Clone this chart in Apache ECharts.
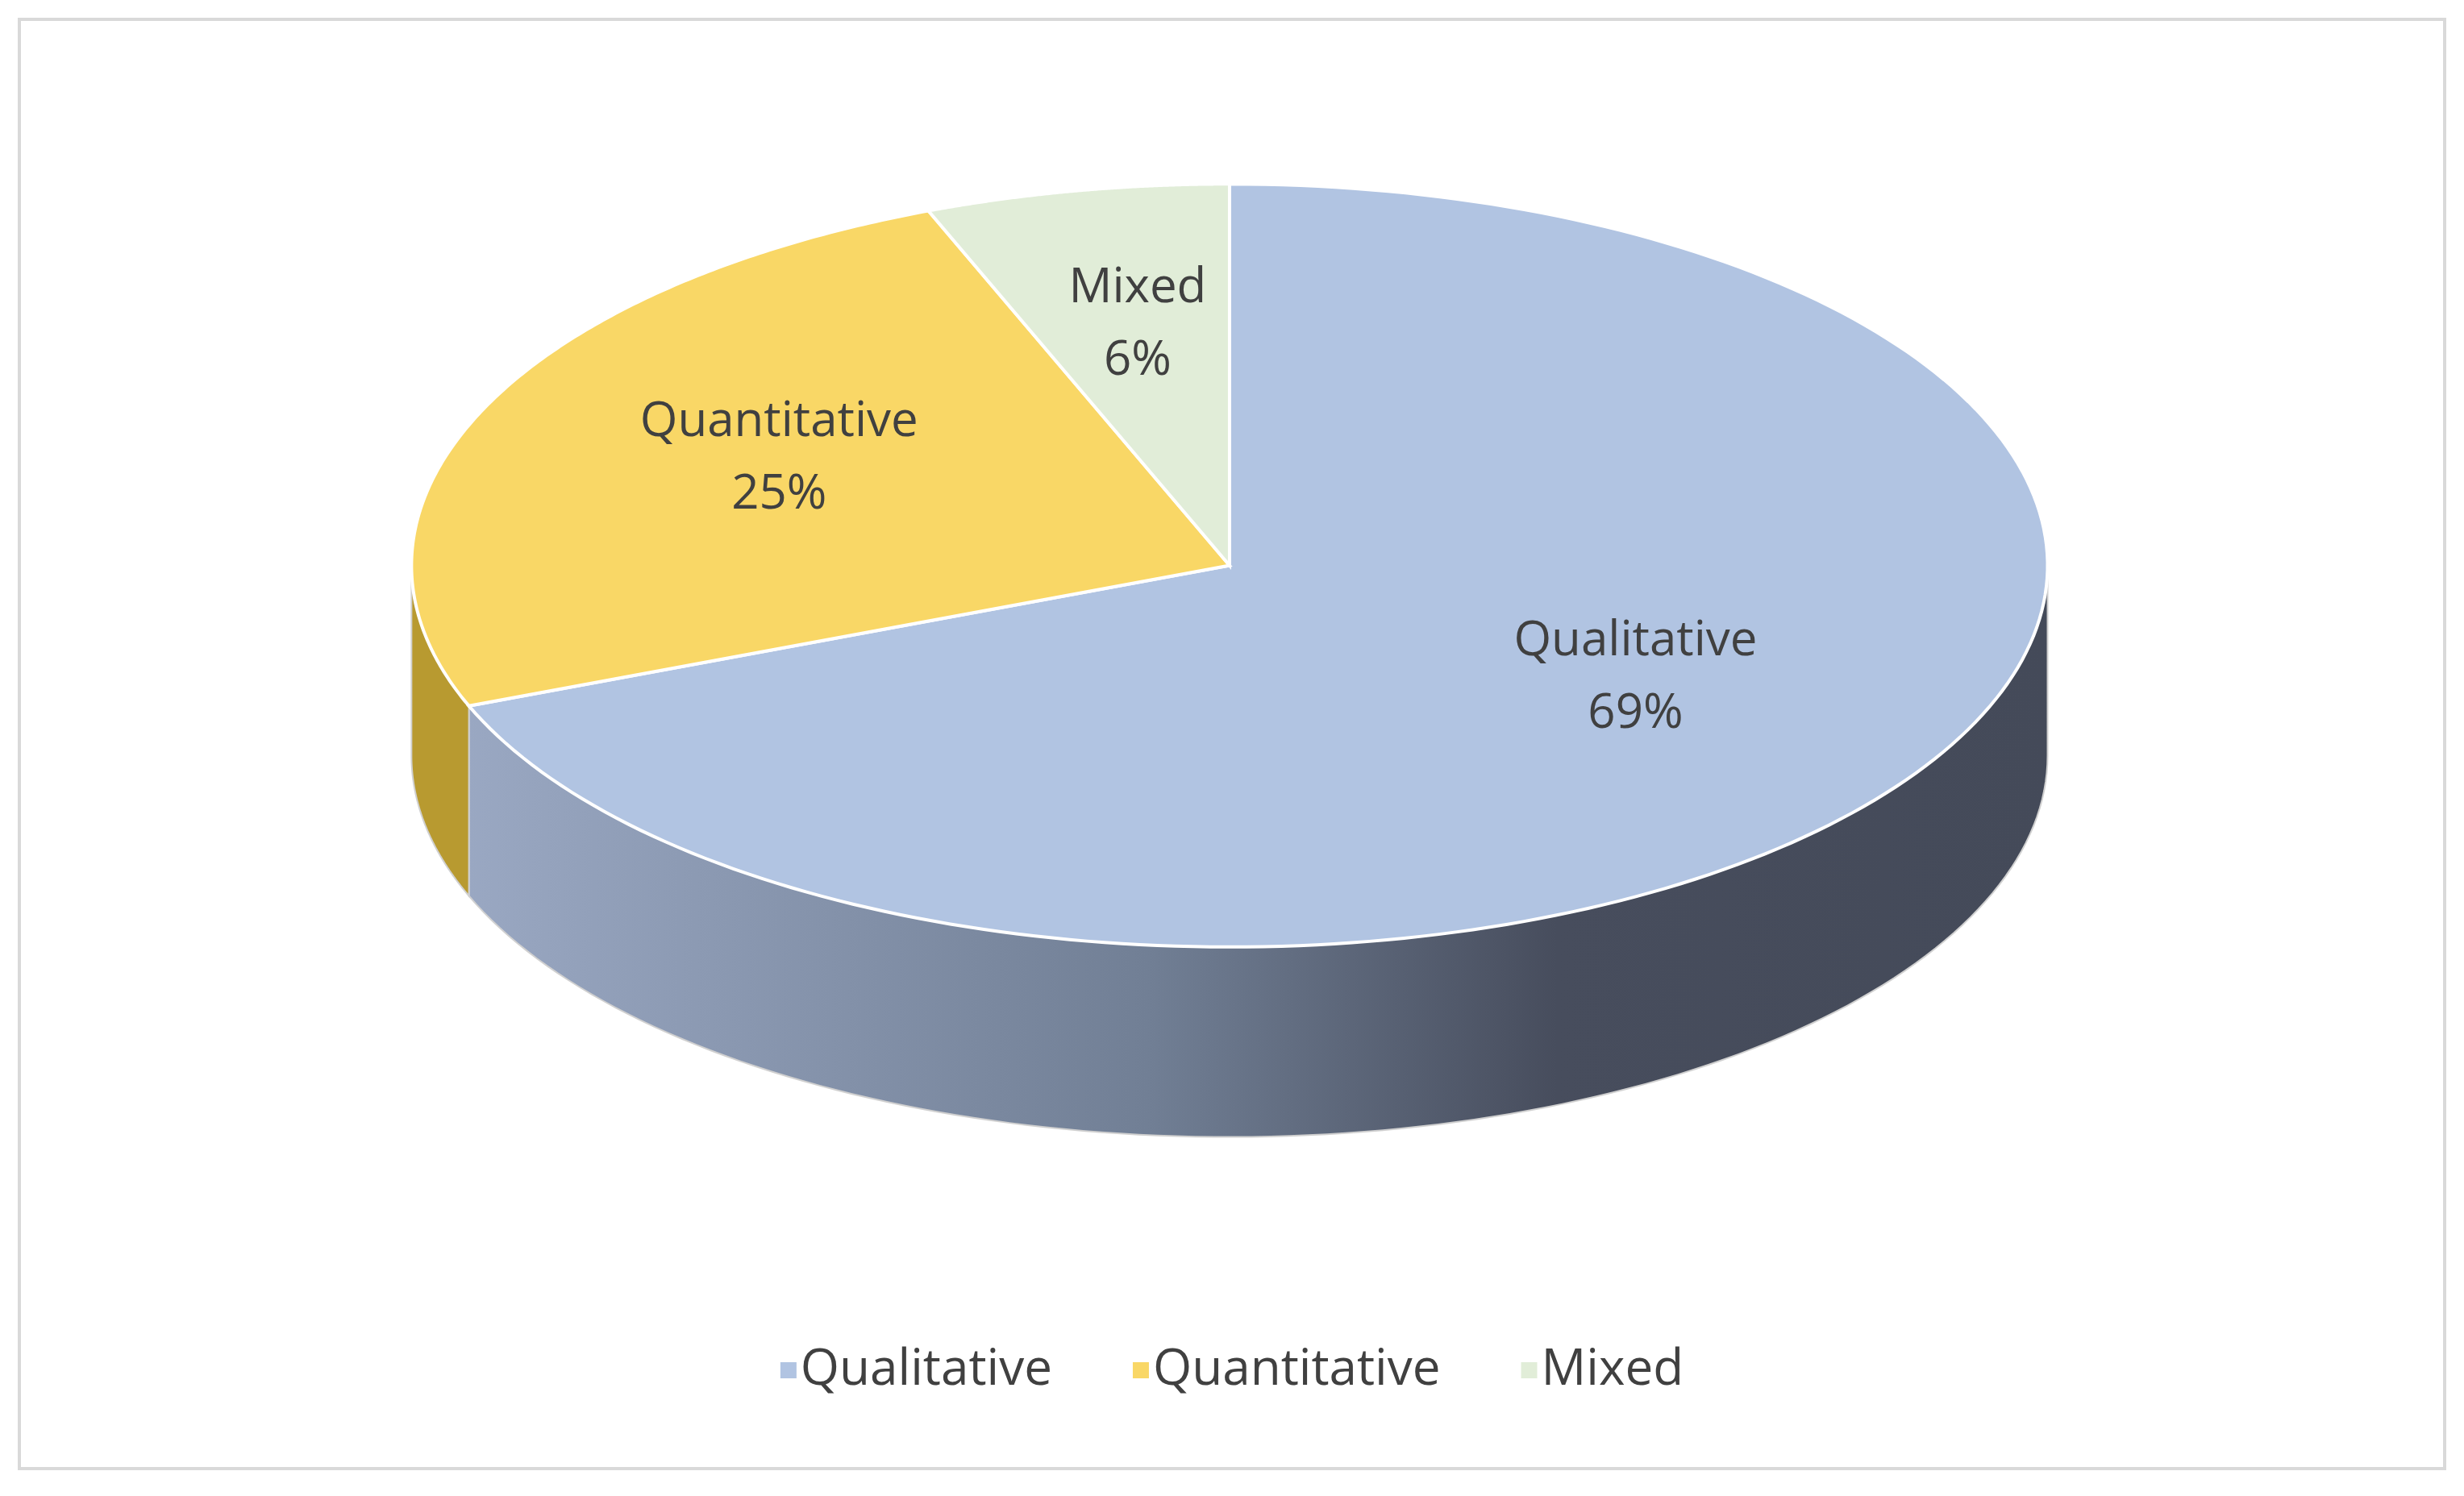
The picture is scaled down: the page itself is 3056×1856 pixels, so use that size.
<!DOCTYPE html>
<html><head><meta charset="utf-8">
<script src="https://cdn.jsdelivr.net/npm/echarts@6/dist/echarts.min.js"></script>
<style>html,body{margin:0;background:#fff}#c{width:3056px;height:1856px}</style>
</head><body><div id="c"></div>
<script>
const categories = ['Qualitative', 'Quantitative', 'Mixed'];
const values = [69, 25, 6];
const colors = ['#b1c4e2', '#f9d766', '#e1edd8'];
const sideColors = ['#6c788e', '#b89a30', '#a8b4a0'];

const total = values.reduce((a, b) => a + b, 0);
const starts = [];
let acc = 0;
values.forEach(v => { starts.push(acc / total * 2 * Math.PI); acc += v; });

const CX = 0.499, CY = 0.378, RX = 0.332, RY = 0.255, DEPTH = 0.127;
function geo(api) {
  const w = api.getWidth(), h = api.getHeight();
  return { cx: CX * w, cy: CY * h, rx: RX * w, ry: RY * h, d: DEPTH * h };
}
function pt(g, t, dy) { return [g.cx + g.rx * Math.sin(t), g.cy - g.ry * Math.cos(t) + (dy || 0)]; }

function sideItem(params, api) {
  const i = params.dataIndex, g = geo(api);
  const a0 = starts[i], a1 = a0 + values[i] / total * 2 * Math.PI;
  const s = Math.max(a0, Math.PI / 2), e = Math.min(a1, 3 * Math.PI / 2);
  if (e <= s) return null;
  const pts = [];
  const n = 120;
  for (let k = 0; k <= n; k++) pts.push(pt(g, s + (e - s) * k / n));
  for (let k = n; k >= 0; k--) pts.push(pt(g, s + (e - s) * k / n, g.d));
  const fill = i === 0 ? {
    type: 'linear', x: g.cx - g.rx, y: 0, x2: g.cx + g.rx, y2: 0, global: true,
    colorStops: [{ offset: 0, color: '#9dabc6' }, { offset: 0.45, color: '#717f95' }, { offset: 0.7, color: '#474d5d' }, { offset: 1, color: '#444a59' }]
  } : sideColors[i];
  return { type: 'polygon', shape: { points: pts }, style: { fill: fill, stroke: '#d0d0d0', lineWidth: 2 } };
}
function topItem(params, api) {
  const i = params.dataIndex, g = geo(api);
  const a0 = starts[i], a1 = a0 + values[i] / total * 2 * Math.PI;
  const pts = [[g.cx, g.cy]];
  const n = 200;
  for (let k = 0; k <= n; k++) pts.push(pt(g, a0 + (a1 - a0) * k / n));
  const mid = (a0 + a1) / 2;
  const f = 0.6;
  const lx = g.cx + g.rx * f * Math.sin(mid), ly = g.cy - g.ry * f * Math.cos(mid) - 20;
  return {
    type: 'group', children: [
      { type: 'polygon', shape: { points: pts }, style: { fill: colors[i], stroke: '#ffffff', lineWidth: 4 } },
      { type: 'text', style: { x: lx, y: ly, text: categories[i] + '\n' + Math.round(values[i] / total * 100) + '%', fill: '#404040', font: '60px "Open Sans"', align: 'center', verticalAlign: 'middle', lineHeight: 90 } }
    ]
  };
}
const data = values.map((v, i) => ({ name: categories[i], value: v, itemStyle: { color: colors[i] } }));
const chart = echarts.init(document.getElementById('c'));
chart.setOption({
  backgroundColor: '#ffffff',
  animation: false,
  graphic: [{ type: 'rect', shape: { x: 24, y: 24, width: 3008, height: 1798 }, style: { fill: 'none', stroke: '#d9d9d9', lineWidth: 4 } }],
  legend: { data: categories, bottom: 120, left: 'center', icon: 'rect', itemWidth: 20, itemHeight: 20, itemGap: 100,
    textStyle: { fontSize: 62, color: '#404040', fontFamily: 'Open Sans' } },
  series: [
    { type: 'custom', name: 'side', coordinateSystem: 'none', renderItem: sideItem, data: data, silent: true, legendHoverLink: false },
    { type: 'custom', name: 'top', coordinateSystem: 'none', renderItem: topItem, data: data, colorBy: 'data' },
    { type: 'pie', radius: 0, data: data, label: { show: false }, silent: true }
  ]
});
</script></body></html>
